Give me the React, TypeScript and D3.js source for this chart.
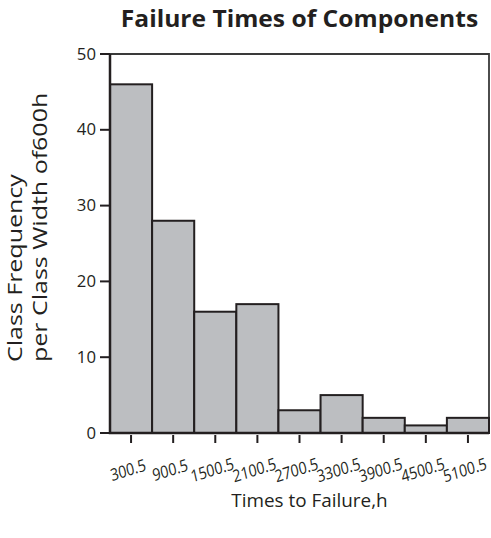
import { scaleBand, scaleLinear } from "d3";

const classMarks = ["300.5", "900.5", "1500.5", "2100.5", "2700.5", "3300.5", "3900.5", "4500.5", "5100.5"];
const frequencies = [46, 28, 16, 17, 3, 5, 2, 1, 2];
const yTicks = [0, 10, 20, 30, 40, 50];

const width = 491;
const height = 538;
const left = 110;
const right = 489;
const top = 54;
const bottom = 433;
const font = "'Open Sans', 'Noto Sans', sans-serif";
const ink = "#231f20";

export default function App() {
  const x = scaleBand().domain(classMarks).range([left, right]).padding(0);
  const y = scaleLinear().domain([0, 50]).range([bottom, top]);

  return (
    <svg
      width={width}
      height={height}
      viewBox={`0 0 ${width} ${height}`}
      style={{ position: "absolute", left: 0, top: 0, background: "white" }}
      fontFamily={font}
    >
      <text
        transform={`translate(${(left + right) / 2},27) scale(1.07,1)`}
        textAnchor="middle"
        fontSize={23}
        fontWeight="bold"
        fill={ink}
      >
        Failure Times of Components
      </text>

      {/* frame, top and right */}
      <path d={`M${left},${top}H${right}V${bottom}`} fill="none" stroke="#3a3a3a" strokeWidth={1.8} />

      {frequencies.map((f, i) => (
        <rect
          key={classMarks[i]}
          x={x(classMarks[i])}
          y={y(f)}
          width={x.bandwidth()}
          height={bottom - y(f)}
          fill="#bcbec1"
          stroke={ink}
          strokeWidth={2}
        />
      ))}

      {/* axes */}
      <path d={`M${left},${top}V${bottom}H${right}`} fill="none" stroke={ink} strokeWidth={2.5} />

      {yTicks.map((t) => (
        <g key={t}>
          <line x1={left - 10} x2={left} y1={y(t)} y2={y(t)} stroke={ink} strokeWidth={2} />
          <text
            transform={`translate(${left - 14},${y(t)}) scale(1.08,1)`}
            dy="0.36em"
            textAnchor="end"
            fontSize={15.5}
            fill={ink}
          >
            {t}
          </text>
        </g>
      ))}

      {classMarks.map((c) => {
        const cx = (x(c) ?? 0) + x.bandwidth() / 2;
        return (
          <g key={c}>
            <line x1={cx} x2={cx} y1={bottom + 2} y2={bottom + 10} stroke={ink} strokeWidth={2} />
            <text
              transform={`translate(${cx - 3},${470}) scale(1.05,1.25) rotate(-15)`}
              dy="0.35em"
              textAnchor="middle"
              fontSize={13.5}
              fill={ink}
            >
              {c}
            </text>
          </g>
        );
      })}

      <text
        transform={`translate(${(left + right) / 2 + 10},507) scale(1.05,1)`}
        textAnchor="middle"
        fontSize={18}
        fill={ink}
      >
        Times to Failure,h
      </text>

      <g transform={`translate(22,362) rotate(-90) scale(1.25,1)`}>
        <text fontSize={20} fill={ink}>
          <tspan x={0} y={0}>Class Frequency</tspan>
          <tspan x={0} y={25}>per Class Width of600h</tspan>
        </text>
      </g>
    </svg>
  );
}
